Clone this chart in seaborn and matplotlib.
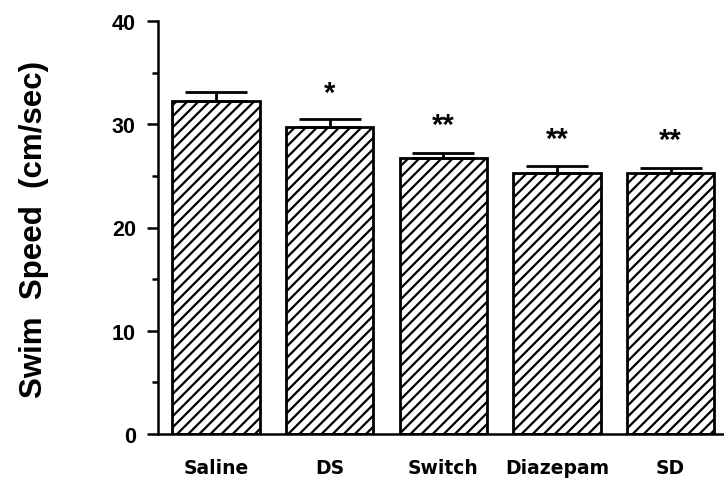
import matplotlib
matplotlib.use("Agg")
import matplotlib.pyplot as plt
import seaborn as sns
import pandas as pd
import numpy as np
from matplotlib.ticker import MultipleLocator

groups = ["Saline", "DS", "Switch", "Diazepam", "SD"]
speed = [32.3, 29.7, 26.7, 25.3, 25.3]
sem = [0.8, 0.8, 0.5, 0.7, 0.5]
signif = ["", "*", "**", "**", "**"]
signif_y = [None, 33.0, 29.9, 28.6, 28.5]

df = pd.DataFrame({"group": groups, "speed": speed})

sns.set_style("white")
plt.rcParams["font.family"] = ["Liberation Sans", "DejaVu Sans"]
plt.rcParams["hatch.linewidth"] = 1.6
for key in ["text.color", "axes.labelcolor", "xtick.color", "ytick.color",
            "axes.edgecolor"]:
    plt.rcParams[key] = "black"

fig = plt.figure(figsize=(7.24, 4.85), dpi=100)
ax = fig.add_axes([158 / 724, 1 - 435 / 485, 1 - 158 / 724, (435 - 22) / 485])

sns.barplot(data=df, x="group", y="speed", color="white", edgecolor="black",
            linewidth=2, width=0.77, errorbar=None, ax=ax)
for p in ax.patches:
    p.set_hatch("///")
    p.set_facecolor("white")

x = np.arange(len(groups))
ax.errorbar(x, speed, yerr=[np.zeros(len(sem)), sem], fmt="none",
            ecolor="black", elinewidth=2, capsize=22, capthick=2, zorder=1)

for xi, s, yy in zip(x, signif, signif_y):
    if s:
        ax.text(xi, yy, s, ha="center", va="center", fontsize=21,
                fontweight="bold")

ax.set_ylim(0, 40)
ax.set_xlim(-0.51, 4.47)
ax.yaxis.set_major_locator(MultipleLocator(10))
ax.yaxis.set_minor_locator(MultipleLocator(5))
ax.tick_params(axis="y", which="major", direction="out", length=8, width=1.8,
               labelsize=15.5, pad=8, left=True)
ax.tick_params(axis="y", which="minor", direction="out", length=4.5, width=1.8,
               left=True)
ax.tick_params(axis="x", length=0, pad=17)
for lab in ax.get_yticklabels():
    lab.set_fontweight("bold")
ax.set_xticks(x)
ax.set_xticklabels(groups, fontweight="bold", fontsize=13.5,
                   family="DejaVu Sans")

ax.spines["top"].set_visible(False)
ax.spines["right"].set_visible(False)
ax.spines["left"].set_linewidth(1.8)
ax.spines["bottom"].set_linewidth(1.8)

ax.set_xlabel("")
ax.set_ylabel("Swim  Speed  (cm/sec)", fontsize=22.5, fontweight="bold")
ax.yaxis.set_label_coords((49 - 158) / 566, (435 - 230) / 413)

fig.savefig("out.png", dpi=100)
